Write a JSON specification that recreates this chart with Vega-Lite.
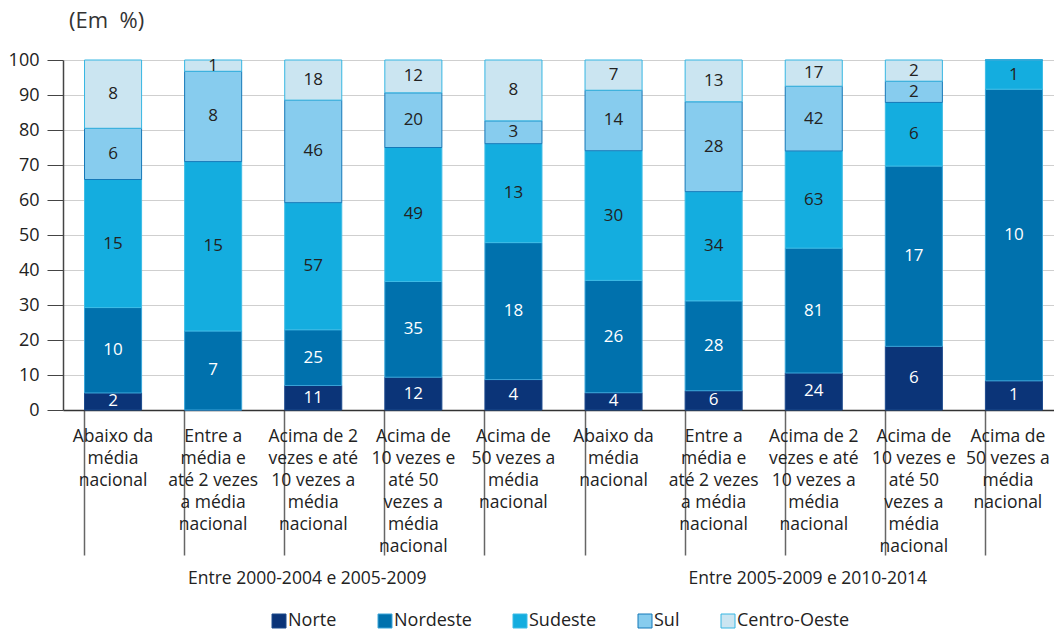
{
  "$schema": "https://vega.github.io/schema/vega-lite/v6.json",
  "width": 991,
  "height": 350,
  "autosize": {"type": "none"},
  "padding": {"left": 63, "top": 60, "right": 0, "bottom": 220},
  "title": {"text": "(Em\u00a0\u00a0%)", "anchor": "start", "frame": "group", "offset": 18, "dx": 6, "fontSize": 22, "fontWeight": "normal", "color": "#333333", "font": "Open Sans"},
  "config": {
    "view": {"stroke": null},
    "font": "Open Sans",
    "axis": {"labelFont": "Open Sans"},
    "legend": {"labelFont": "Open Sans"}
  },
  "data": {"values": [
    {"barra": 1, "periodo": "Entre 2000-2004 e 2005-2009", "faixa": "Abaixo da média nacional", "regiao": "Norte", "ordem": 1, "n": 2},
    {"barra": 1, "periodo": "Entre 2000-2004 e 2005-2009", "faixa": "Abaixo da média nacional", "regiao": "Nordeste", "ordem": 2, "n": 10},
    {"barra": 1, "periodo": "Entre 2000-2004 e 2005-2009", "faixa": "Abaixo da média nacional", "regiao": "Sudeste", "ordem": 3, "n": 15},
    {"barra": 1, "periodo": "Entre 2000-2004 e 2005-2009", "faixa": "Abaixo da média nacional", "regiao": "Sul", "ordem": 4, "n": 6},
    {"barra": 1, "periodo": "Entre 2000-2004 e 2005-2009", "faixa": "Abaixo da média nacional", "regiao": "Centro-Oeste", "ordem": 5, "n": 8},
    {"barra": 2, "periodo": "Entre 2000-2004 e 2005-2009", "faixa": "Entre a média e até 2 vezes a média nacional", "regiao": "Norte", "ordem": 1, "n": 0},
    {"barra": 2, "periodo": "Entre 2000-2004 e 2005-2009", "faixa": "Entre a média e até 2 vezes a média nacional", "regiao": "Nordeste", "ordem": 2, "n": 7},
    {"barra": 2, "periodo": "Entre 2000-2004 e 2005-2009", "faixa": "Entre a média e até 2 vezes a média nacional", "regiao": "Sudeste", "ordem": 3, "n": 15},
    {"barra": 2, "periodo": "Entre 2000-2004 e 2005-2009", "faixa": "Entre a média e até 2 vezes a média nacional", "regiao": "Sul", "ordem": 4, "n": 8},
    {"barra": 2, "periodo": "Entre 2000-2004 e 2005-2009", "faixa": "Entre a média e até 2 vezes a média nacional", "regiao": "Centro-Oeste", "ordem": 5, "n": 1},
    {"barra": 3, "periodo": "Entre 2000-2004 e 2005-2009", "faixa": "Acima de 2 vezes e até 10 vezes a média nacional", "regiao": "Norte", "ordem": 1, "n": 11},
    {"barra": 3, "periodo": "Entre 2000-2004 e 2005-2009", "faixa": "Acima de 2 vezes e até 10 vezes a média nacional", "regiao": "Nordeste", "ordem": 2, "n": 25},
    {"barra": 3, "periodo": "Entre 2000-2004 e 2005-2009", "faixa": "Acima de 2 vezes e até 10 vezes a média nacional", "regiao": "Sudeste", "ordem": 3, "n": 57},
    {"barra": 3, "periodo": "Entre 2000-2004 e 2005-2009", "faixa": "Acima de 2 vezes e até 10 vezes a média nacional", "regiao": "Sul", "ordem": 4, "n": 46},
    {"barra": 3, "periodo": "Entre 2000-2004 e 2005-2009", "faixa": "Acima de 2 vezes e até 10 vezes a média nacional", "regiao": "Centro-Oeste", "ordem": 5, "n": 18},
    {"barra": 4, "periodo": "Entre 2000-2004 e 2005-2009", "faixa": "Acima de 10 vezes e até 50 vezes a média nacional", "regiao": "Norte", "ordem": 1, "n": 12},
    {"barra": 4, "periodo": "Entre 2000-2004 e 2005-2009", "faixa": "Acima de 10 vezes e até 50 vezes a média nacional", "regiao": "Nordeste", "ordem": 2, "n": 35},
    {"barra": 4, "periodo": "Entre 2000-2004 e 2005-2009", "faixa": "Acima de 10 vezes e até 50 vezes a média nacional", "regiao": "Sudeste", "ordem": 3, "n": 49},
    {"barra": 4, "periodo": "Entre 2000-2004 e 2005-2009", "faixa": "Acima de 10 vezes e até 50 vezes a média nacional", "regiao": "Sul", "ordem": 4, "n": 20},
    {"barra": 4, "periodo": "Entre 2000-2004 e 2005-2009", "faixa": "Acima de 10 vezes e até 50 vezes a média nacional", "regiao": "Centro-Oeste", "ordem": 5, "n": 12},
    {"barra": 5, "periodo": "Entre 2000-2004 e 2005-2009", "faixa": "Acima de 50 vezes a média nacional", "regiao": "Norte", "ordem": 1, "n": 4},
    {"barra": 5, "periodo": "Entre 2000-2004 e 2005-2009", "faixa": "Acima de 50 vezes a média nacional", "regiao": "Nordeste", "ordem": 2, "n": 18},
    {"barra": 5, "periodo": "Entre 2000-2004 e 2005-2009", "faixa": "Acima de 50 vezes a média nacional", "regiao": "Sudeste", "ordem": 3, "n": 13},
    {"barra": 5, "periodo": "Entre 2000-2004 e 2005-2009", "faixa": "Acima de 50 vezes a média nacional", "regiao": "Sul", "ordem": 4, "n": 3},
    {"barra": 5, "periodo": "Entre 2000-2004 e 2005-2009", "faixa": "Acima de 50 vezes a média nacional", "regiao": "Centro-Oeste", "ordem": 5, "n": 8},
    {"barra": 6, "periodo": "Entre 2005-2009 e 2010-2014", "faixa": "Abaixo da média nacional", "regiao": "Norte", "ordem": 1, "n": 4},
    {"barra": 6, "periodo": "Entre 2005-2009 e 2010-2014", "faixa": "Abaixo da média nacional", "regiao": "Nordeste", "ordem": 2, "n": 26},
    {"barra": 6, "periodo": "Entre 2005-2009 e 2010-2014", "faixa": "Abaixo da média nacional", "regiao": "Sudeste", "ordem": 3, "n": 30},
    {"barra": 6, "periodo": "Entre 2005-2009 e 2010-2014", "faixa": "Abaixo da média nacional", "regiao": "Sul", "ordem": 4, "n": 14},
    {"barra": 6, "periodo": "Entre 2005-2009 e 2010-2014", "faixa": "Abaixo da média nacional", "regiao": "Centro-Oeste", "ordem": 5, "n": 7},
    {"barra": 7, "periodo": "Entre 2005-2009 e 2010-2014", "faixa": "Entre a média e até 2 vezes a média nacional", "regiao": "Norte", "ordem": 1, "n": 6},
    {"barra": 7, "periodo": "Entre 2005-2009 e 2010-2014", "faixa": "Entre a média e até 2 vezes a média nacional", "regiao": "Nordeste", "ordem": 2, "n": 28},
    {"barra": 7, "periodo": "Entre 2005-2009 e 2010-2014", "faixa": "Entre a média e até 2 vezes a média nacional", "regiao": "Sudeste", "ordem": 3, "n": 34},
    {"barra": 7, "periodo": "Entre 2005-2009 e 2010-2014", "faixa": "Entre a média e até 2 vezes a média nacional", "regiao": "Sul", "ordem": 4, "n": 28},
    {"barra": 7, "periodo": "Entre 2005-2009 e 2010-2014", "faixa": "Entre a média e até 2 vezes a média nacional", "regiao": "Centro-Oeste", "ordem": 5, "n": 13},
    {"barra": 8, "periodo": "Entre 2005-2009 e 2010-2014", "faixa": "Acima de 2 vezes e até 10 vezes a média nacional", "regiao": "Norte", "ordem": 1, "n": 24},
    {"barra": 8, "periodo": "Entre 2005-2009 e 2010-2014", "faixa": "Acima de 2 vezes e até 10 vezes a média nacional", "regiao": "Nordeste", "ordem": 2, "n": 81},
    {"barra": 8, "periodo": "Entre 2005-2009 e 2010-2014", "faixa": "Acima de 2 vezes e até 10 vezes a média nacional", "regiao": "Sudeste", "ordem": 3, "n": 63},
    {"barra": 8, "periodo": "Entre 2005-2009 e 2010-2014", "faixa": "Acima de 2 vezes e até 10 vezes a média nacional", "regiao": "Sul", "ordem": 4, "n": 42},
    {"barra": 8, "periodo": "Entre 2005-2009 e 2010-2014", "faixa": "Acima de 2 vezes e até 10 vezes a média nacional", "regiao": "Centro-Oeste", "ordem": 5, "n": 17},
    {"barra": 9, "periodo": "Entre 2005-2009 e 2010-2014", "faixa": "Acima de 10 vezes e até 50 vezes a média nacional", "regiao": "Norte", "ordem": 1, "n": 6},
    {"barra": 9, "periodo": "Entre 2005-2009 e 2010-2014", "faixa": "Acima de 10 vezes e até 50 vezes a média nacional", "regiao": "Nordeste", "ordem": 2, "n": 17},
    {"barra": 9, "periodo": "Entre 2005-2009 e 2010-2014", "faixa": "Acima de 10 vezes e até 50 vezes a média nacional", "regiao": "Sudeste", "ordem": 3, "n": 6},
    {"barra": 9, "periodo": "Entre 2005-2009 e 2010-2014", "faixa": "Acima de 10 vezes e até 50 vezes a média nacional", "regiao": "Sul", "ordem": 4, "n": 2},
    {"barra": 9, "periodo": "Entre 2005-2009 e 2010-2014", "faixa": "Acima de 10 vezes e até 50 vezes a média nacional", "regiao": "Centro-Oeste", "ordem": 5, "n": 2},
    {"barra": 10, "periodo": "Entre 2005-2009 e 2010-2014", "faixa": "Acima de 50 vezes a média nacional", "regiao": "Norte", "ordem": 1, "n": 1},
    {"barra": 10, "periodo": "Entre 2005-2009 e 2010-2014", "faixa": "Acima de 50 vezes a média nacional", "regiao": "Nordeste", "ordem": 2, "n": 10},
    {"barra": 10, "periodo": "Entre 2005-2009 e 2010-2014", "faixa": "Acima de 50 vezes a média nacional", "regiao": "Sudeste", "ordem": 3, "n": 1},
    {"barra": 10, "periodo": "Entre 2005-2009 e 2010-2014", "faixa": "Acima de 50 vezes a média nacional", "regiao": "Sul", "ordem": 4, "n": 0},
    {"barra": 10, "periodo": "Entre 2005-2009 e 2010-2014", "faixa": "Acima de 50 vezes a média nacional", "regiao": "Centro-Oeste", "ordem": 5, "n": 0}
  ]},
  "layer": [
    {
      "transform": [
        {"stack": "n", "groupby": ["barra"], "sort": [{"field": "ordem", "order": "ascending"}], "offset": "normalize", "as": ["f0", "f1"]},
        {"calculate": "datum.f0 * 100", "as": "p0"},
        {"calculate": "datum.f1 * 100", "as": "p1"},
        {"calculate": "(datum.p0 + datum.p1) / 2", "as": "pm"}
      ],
      "encoding": {
        "x": {
          "field": "barra", "type": "ordinal",
          "scale": {"type": "band", "range": [0, 1001], "paddingInner": 0.43, "paddingOuter": 0.215},
          "axis": {
            "title": null,
            "labelExpr": "[['Abaixo da','média','nacional'],['Entre a','média e','até 2 vezes','a média','nacional'],['Acima de 2','vezes e até','10 vezes a','média','nacional'],['Acima de','10 vezes e','até 50','vezes a','média','nacional'],['Acima de','50 vezes a','média','nacional'],['Abaixo da','média','nacional'],['Entre a','média e','até 2 vezes','a média','nacional'],['Acima de 2','vezes e até','10 vezes a','média','nacional'],['Acima de','10 vezes e','até 50','vezes a','média','nacional'],['Acima de','50 vezes a','média','nacional']][datum.value - 1]",
            "bandPosition": 0,
            "tickSize": 145,
            "tickColor": "#666666",
            "tickWidth": 1.5,
            "domainColor": "#333333",
            "domainWidth": 1.5,
            "labelPadding": -128,
            "labelFontSize": 17.5,
            "labelLineHeight": 22,
            "labelColor": "#222222",
            "labelAngle": 0,
            "labelBaseline": "top",
            "labelOverlap": false,
            "labelLimit": 0,
            "labelOffset": {"condition": {"test": "datum.value === 10", "value": -6}, "value": 0},
            "grid": false
          }
        }
      },
      "layer": [
        {
          "mark": {"type": "bar", "strokeWidth": 1},
          "encoding": {
            "y": {
              "field": "p0", "type": "quantitative",
              "scale": {"domain": [0, 100], "nice": false},
              "axis": {"title": null, "values": [0, 10, 20, 30, 40, 50, 60, 70, 80, 90, 100], "labelOverlap": false, "tickSize": 16, "tickColor": "#444444", "domainColor": "#444444", "domainWidth": 1.5, "labelFontSize": 18, "labelPadding": 8, "labelColor": "#222222", "grid": true, "gridColor": "#cfcfcf"}
            },
            "y2": {"field": "p1"},
            "fill": {
              "field": "regiao", "type": "nominal",
              "scale": {"domain": ["Norte", "Nordeste", "Sudeste", "Sul", "Centro-Oeste"], "range": ["#0b3478", "#0071ad", "#14addf", "#87ccee", "#cbe5f1"]},
              "legend": {"title": null, "orient": "none", "legendX": 207, "legendY": 552, "direction": "horizontal", "symbolType": "square", "symbolSize": 196, "symbolStrokeWidth": 1, "labelFontSize": 18, "labelColor": "#222222", "columnPadding": 39, "labelOffset": 0, "padding": 0}
            },
            "stroke": {
              "field": "regiao", "type": "nominal",
              "scale": {"domain": ["Norte", "Nordeste", "Sudeste", "Sul", "Centro-Oeste"], "range": ["#1d4a8c", "#3aa5d8", "#3dbce6", "#1478b8", "#36b6e2"]},
              "legend": {"title": null, "orient": "none", "legendX": 207, "legendY": 552, "direction": "horizontal", "symbolType": "square", "symbolSize": 196, "symbolStrokeWidth": 1, "labelFontSize": 18, "labelColor": "#222222", "columnPadding": 39, "labelOffset": 0, "padding": 0}
            }
          }
        },
        {
          "transform": [{"filter": "datum.n > 0"}],
          "mark": {"type": "text", "fontSize": 17, "align": "center", "baseline": "middle"},
          "encoding": {
            "y": {
              "field": "pm", "type": "quantitative",
              "scale": {"domain": [0, 100], "nice": false},
              "axis": {"title": null, "values": [0, 10, 20, 30, 40, 50, 60, 70, 80, 90, 100], "labelOverlap": false, "tickSize": 16, "tickColor": "#444444", "domainColor": "#444444", "domainWidth": 1.5, "labelFontSize": 18, "labelPadding": 8, "labelColor": "#222222", "grid": true, "gridColor": "#cfcfcf"}
            },
            "text": {"field": "n", "type": "quantitative"},
            "color": {"condition": {"test": "datum.regiao === 'Norte' || datum.regiao === 'Nordeste'", "value": "#ffffff"}, "value": "#222222"}
          }
        }
      ]
    },
    {
      "mark": {"type": "text", "text": ""},
      "encoding": {
        "x": {
          "field": "periodo", "type": "nominal",
          "scale": {"type": "band", "range": [0, 1001], "paddingInner": 0, "paddingOuter": 0},
          "axis": {"title": null, "orient": "bottom", "offset": 168, "ticks": false, "domain": false, "labelPadding": 0, "labelFontSize": 17.5, "labelColor": "#222222", "labelOffset": -6, "labelBaseline": "middle", "labelAngle": 0, "grid": false, "labelLimit": 0}
        }
      }
    }
  ],
  "resolve": {"scale": {"x": "independent"}, "axis": {"x": "independent"}}
}
